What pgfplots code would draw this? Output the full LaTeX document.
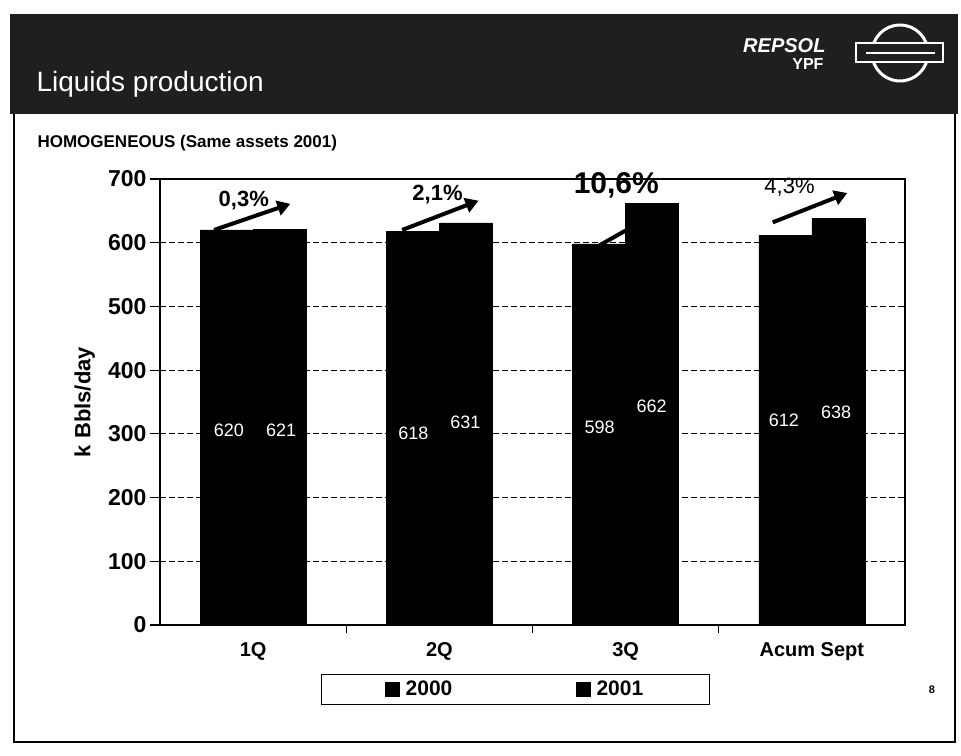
\documentclass[border=0pt]{standalone}
\usepackage{pgfplots}
\pgfplotsset{compat=1.18}
\usepackage{fontspec}
\setmainfont{Liberation Sans}
\usetikzlibrary{arrows.meta}

\begin{document}
\begin{tikzpicture}[x=1pt,y=1pt]
% page
\path[fill=white] (0,0) rectangle (961,755);

% header banner
\fill[black!88] (10,641) rectangle (958,741);
\node[anchor=base west, text=white, font=\fontsize{28}{32}\selectfont] at (33,663) {Liquids production};
\node[anchor=base east, text=white, font=\bfseries\itshape\fontsize{20}{22}\selectfont] at (829,702) {REPSOL};
\node[anchor=base east, text=white, font=\bfseries\fontsize{16}{18}\selectfont] at (827,685) {YPF};
% company emblem
\draw[white, line width=3pt] (900,702) circle[radius=28];
\filldraw[fill=black!88, draw=white, line width=2.5pt] (856,693) rectangle (943,712);
\draw[white, line width=1.5pt] (866,702) -- (935,702);

% slide frame
\draw[line width=1.5pt] (14,641) -- (14,13) -- (955,13) -- (955,641);
\node[anchor=base west, font=\bfseries\fontsize{17}{20}\selectfont] at (34,607) {HOMOGENEOUS (Same assets 2001)};
\node[font=\bfseries\fontsize{11}{13}\selectfont] at (932,65) {8};

\coordinate (origin) at (160,130);

\begin{axis}[
  at={(origin)}, anchor=south west,
  scale only axis, width=745pt, height=446pt,
  ymin=0, ymax=700, xmin=-0.5, xmax=3.5,
  ybar=0pt, bar width=53pt,
  ytick={0,100,...,700},
  xtick={0,1,2,3},
  xticklabels={1Q,2Q,3Q,Acum Sept},
  minor xtick={0.5,1.5,2.5},
  major x tick style={draw=none},
  tick pos=left,
  tick align=outside,
  major tick length=10pt, minor tick length=8pt,
  tick style={line width=1.2pt, black},
  ymajorgrids,
  grid style={black, line width=1.2pt, dash pattern=on 6pt off 3pt},
  axis line style={line width=1.5pt},
  /pgf/number format/assume math mode=true,
  yticklabel style={font=\bfseries\fontsize{23}{26}\selectfont},
  xticklabel style={font=\bfseries\fontsize{20}{23}\selectfont, yshift=-4pt},
  ylabel={k Bbls/day},
  ylabel style={at={(axis description cs:-0.101,0.5)}, anchor=center,
                font=\bfseries\fontsize{22}{25}\selectfont},
  legend columns=2,
  legend style={at={(0.477,-0.144)}, anchor=center,
    draw=black, line width=1.2pt, fill=white,
    inner xsep=64pt, inner ysep=5pt,
    font=\bfseries\fontsize{21}{24}\selectfont,
    nodes={inner xsep=2pt},
    /tikz/every even column/.append style={column sep=122pt}},
  legend image code/.code={\fill[black] (0pt,-7pt) rectangle (13pt,7pt);
                           \path (17pt,0pt);},
  clip=false,
]
% growth arrow partly hidden behind the 3Q bar
\draw[line width=4pt, -{Triangle[length=12pt,width=14pt]}] (axis cs:1.86,596) -- (axis cs:2.2,652);

\addplot[fill=black, draw=black] coordinates {(0,620) (1,618) (2,598) (3,612)};
\addplot[fill=black, draw=black] coordinates {(0,621) (1,631) (2,662) (3,638)};
\legend{2000,2001}

% growth arrows
\draw[line width=4pt, -{Triangle[length=13pt,width=15pt]}] (axis cs:-0.21,620) -- (axis cs:0.2,661);
\draw[line width=4pt, -{Triangle[length=13pt,width=15pt]}] (axis cs:0.8,620) -- (axis cs:1.21,666);
\draw[line width=4pt, -{Triangle[length=13pt,width=15pt]}] (axis cs:2.79,632) -- (axis cs:3.19,678);

% growth rates
\node[font=\bfseries\fontsize{22}{25}\selectfont] at (axis cs:-0.05,667) {0,3\%};
\node[font=\bfseries\fontsize{22}{25}\selectfont] at (axis cs:0.99,675) {2,1\%};
\node[font=\bfseries\fontsize{30}{33}\selectfont] at (axis cs:1.95,690) {10,6\%};
\node[font=\fontsize{22}{25}\selectfont] at (axis cs:2.88,687) {4,3\%};

% bar values
\begin{scope}[every node/.style={text=white, font=\fontsize{18}{21}\selectfont}]
\node at (axis cs:-0.13,305) {620};
\node at (axis cs:0.15,305) {621};
\node at (axis cs:0.86,301) {618};
\node at (axis cs:1.14,318) {631};
\node at (axis cs:1.86,310) {598};
\node at (axis cs:2.14,344) {662};
\node at (axis cs:2.85,321) {612};
\node at (axis cs:3.13,334) {638};
\end{scope}
\end{axis}
\end{tikzpicture}
\end{document}
